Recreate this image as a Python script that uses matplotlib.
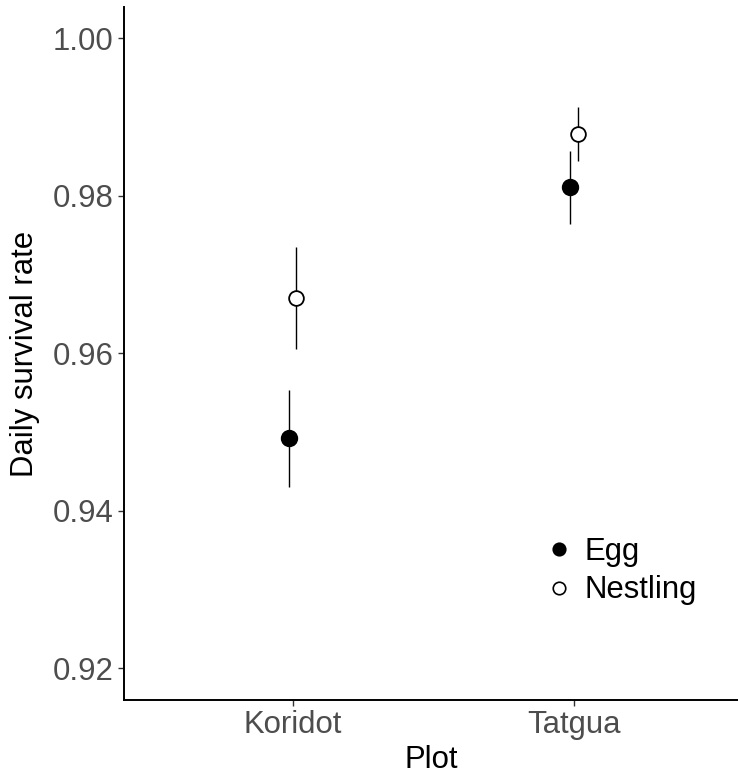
import numpy as np
import matplotlib
matplotlib.use('Agg')
import matplotlib.pyplot as plt
from matplotlib.lines import Line2D

plt.rcParams['font.family'] = ['Liberation Sans', 'DejaVu Sans']

# values
plots = ['Koridot', 'Tatgua']
egg_dsr = [0.9493, 0.9812]
egg_lo = [0.9431, 0.9765]
egg_hi = [0.9554, 0.9857]
nest_dsr = [0.9670, 0.9879]
nest_lo = [0.9606, 0.9845]
nest_hi = [0.9735, 0.9913]
yticks = [0.92, 0.94, 0.96, 0.98, 1.00]

fs = 22.4

fig = plt.figure(figsize=(7.38, 7.76), dpi=100)
ax = fig.add_axes([124/738, 76/776, 1 - 124/738, (700 - 7)/776])

x = np.arange(1, len(plots) + 1)
dodge = 0.0128

ax.vlines(x - dodge, egg_lo, egg_hi, color='black', lw=1.0, zorder=2)
ax.vlines(x + dodge, nest_lo, nest_hi, color='black', lw=1.0, zorder=2)
ax.plot(x - dodge, egg_dsr, 'o', ms=11.3, mfc='black', mec='black', mew=1.2, ls='none', zorder=3)
ax.plot(x + dodge, nest_dsr, 'o', ms=10.6, mfc='white', mec='black', mew=1.3, ls='none', zorder=3)

ax.set_xlim(0.4, 2.583)
ax.set_ylim(0.9160, 1.0040)
ax.set_xticks(x)
ax.set_xticklabels(plots)
ax.set_yticks(yticks)
ax.set_yticklabels(['%.2f' % v for v in yticks])

for s in ['top', 'right']:
    ax.spines[s].set_visible(False)
for s in ['left', 'bottom']:
    ax.spines[s].set_linewidth(1.4)
ax.tick_params(axis='both', length=4.5, width=1.0, color='#333333',
               labelsize=fs, labelcolor='#4D4D4D', pad=3)

ax.set_xlabel('Plot', fontsize=fs, labelpad=3)
ax.set_ylabel('Daily survival rate', fontsize=fs, labelpad=9.5)

handles = [
    Line2D([], [], marker='o', ls='none', ms=9, mfc='black', mec='black', mew=1.2),
    Line2D([], [], marker='o', ls='none', ms=9, mfc='white', mec='black', mew=1.2),
]
fig.legend(handles, ['Egg', 'Nestling'], loc='upper left',
           bbox_to_anchor=(547/738, 1 - 537/776), frameon=False,
           fontsize=fs, handlelength=0.8, handletextpad=0.42,
           labelspacing=0.27, borderpad=0, borderaxespad=0)

fig.savefig('out.png', dpi=100)
